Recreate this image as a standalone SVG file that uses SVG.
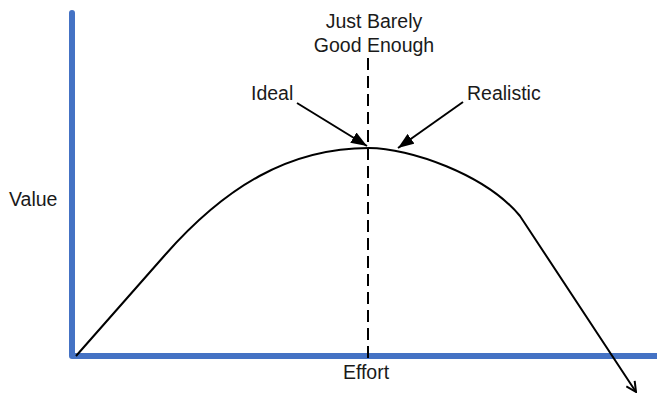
<svg xmlns="http://www.w3.org/2000/svg" width="657" height="394" viewBox="0 0 657 394">
<defs>
<style>
text{font-family:"Liberation Sans",Arial,sans-serif;font-size:19.5px;fill:#1a1a1a}
.axis{fill:none;stroke:#4472C4;stroke-width:6;stroke-linecap:round;stroke-linejoin:round}
.curve{fill:none;stroke:#000;stroke-width:2}
.dash{fill:none;stroke:#000;stroke-width:2;stroke-dasharray:12 6}
.pointer{fill:none;stroke:#000;stroke-width:2}
</style>
<marker id="open" viewBox="0 0 12 12" refX="11" refY="6" markerWidth="12" markerHeight="12" markerUnits="userSpaceOnUse" orient="auto">
<path d="M1,1 L11,6 L1,11" fill="none" stroke="#000" stroke-width="2"/>
</marker>
<marker id="solid" viewBox="0 0 16 12" refX="16" refY="6" markerWidth="16" markerHeight="12" markerUnits="userSpaceOnUse" orient="auto">
<path d="M0,0 L16,6 L0,12 Z" fill="#000"/>
</marker>
</defs>
<g id="axes">
<path class="axis" d="M72,13 L72,356 L657,356"/>
</g>
<g id="labels">
<text x="9" y="206">Value</text>
<text x="366" y="379" text-anchor="middle">Effort</text>
<text x="374" y="28" text-anchor="middle">Just Barely</text>
<text x="374" y="52" text-anchor="middle">Good Enough</text>
<text x="251" y="100">Ideal</text>
<text x="467" y="100">Realistic</text>
</g>
<g id="connectors">
<path class="curve" marker-end="url(#open)" d="M76,356 L165,255 C225,187 289,148 369,148 C409,148 485,174 520,216 L636,392"/>
<path class="dash" d="M368,58 L368,358"/>
<path class="pointer" marker-end="url(#solid)" d="M297,103 L367,146"/>
<path class="pointer" marker-end="url(#solid)" d="M463,102 L398,148"/>
</g>
</svg>
